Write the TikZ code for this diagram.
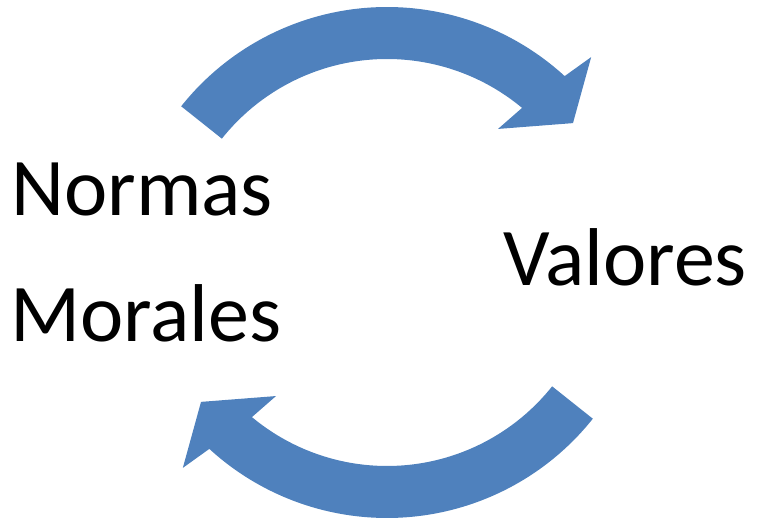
\documentclass[tikz,border=0pt]{standalone}
\usepackage{fontspec}
\setmainfont{Carlito}

\definecolor{azul}{HTML}{4F81BD}
% one curved block arrow, drawn round the origin
\newcommand{\flechacurva}{%
  \fill[flecha] (141.5:263) arc[start angle=141.5,end angle=47.5,radius=263]
    -- (46.2:295) -- (38.3:237) -- (51.8:179.5) -- (50.2:211)
    arc[start angle=50.2,end angle=141.5,radius=211] -- cycle;}

\begin{document}
\begin{tikzpicture}[x=1pt,y=1pt,
  flecha/.style={fill=azul,draw=none},
  texto/.style={anchor=base west,inner sep=0pt,font=\fontsize{82}{98}\selectfont}]
  \useasboundingbox (0,0) rectangle (758,522);
  % upper arrow
  \begin{scope}[shift={(387,252)}]
    \flechacurva
  \end{scope}
  % lower arrow, same shape turned round
  \begin{scope}[shift={(387,267)},rotate=180]
    \flechacurva
  \end{scope}
  \node[texto] (normas) at (11,306) {Normas};
  \node[texto] (morales) at (10,180) {Morales};
  \node[texto] (valores) at (503,236) {Valores};
\end{tikzpicture}
\end{document}
